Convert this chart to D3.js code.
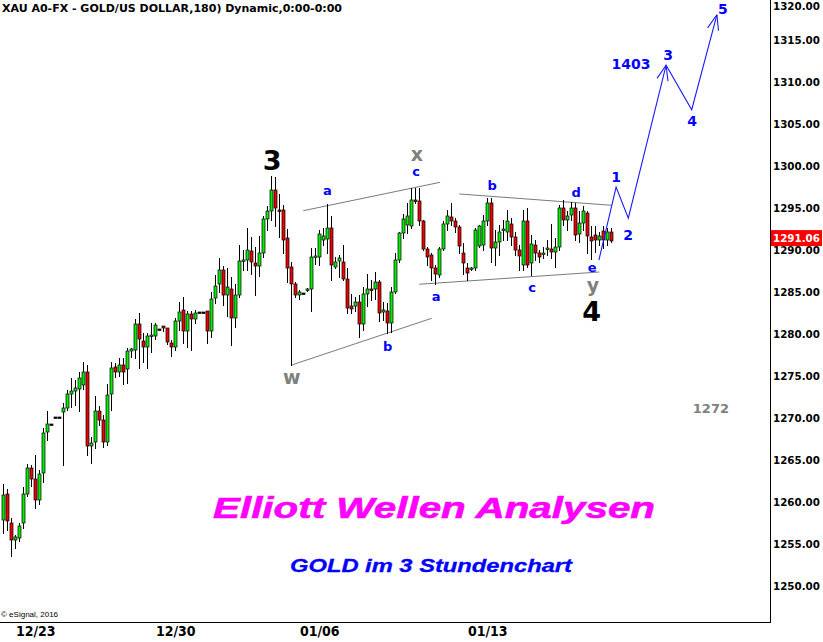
<!DOCTYPE html>
<html><head><meta charset="utf-8">
<script src="https://cdn.jsdelivr.net/npm/d3@7"></script>
<style>body{margin:0;background:#fff;} svg{display:block;}</style>
</head><body>
<svg id="chart" width="823" height="642"></svg>
<script>
// ---- data (3-hour bars, XAU/USD) ----
const openP = [1257.9,1260.9,1257.5,1255.5,1255.7,1257.5,1261.0,1264.1,1262.7,1260.2,
1263.4,1268.3,1269.3,1270.1,1270.1,1270.7,1271.2,1272.8,1273.2,1273.5,
1273.9,1275.5,1266.7,1267.1,1270.8,1269.8,1267.1,1272.8,1276.1,1275.5,
1276.3,1275.8,1278.0,1278.1,1281.2,1279.2,1278.4,1279.8,1279.8,1280.6,
1280.9,1280.7,1278.9,1278.5,1281.5,1282.9,1280.4,1282.4,1281.8,1282.6,
1282.6,1282.7,1280.3,1284.3,1285.9,1287.6,1284.7,1285.4,1281.9,1284.7,
1288.7,1288.8,1289.9,1288.4,1288.1,1289.6,1293.7,1294.6,1297.1,1294.8,
1294.8,1291.4,1288.0,1286.0,1284.6,1284.9,1285.2,1285.4,1289.2,1289.2,
1291.2,1291.3,1292.6,1288.0,1288.7,1288.6,1286.6,1283.3,1283.3,1283.8,
1281.2,1284.8,1285.4,1285.4,1286.2,1282.6,1282.7,1281.3,1285.0,1288.8,
1292.0,1293.0,1292.9,1296.0,1295.8,1293.4,1290.1,1289.4,1287.8,1287.0,
1290.1,1293.1,1293.9,1293.5,1292.7,1289.6,1287.8,1287.8,1287.8,1290.5,
1290.6,1293.4,1295.6,1290.2,1291.0,1292.4,1292.2,1293.1,1291.6,1290.0,
1288.2,1293.4,1288.4,1290.6,1289.6,1289.6,1290.1,1290.1,1289.8,1290.3,
1295.0,1293.6,1294.2,1295.0,1291.9,1293.2,1294.4,1291.6,1291.8,1291.2,
1292.3,1291.2,1292.1];
const highP = [1262.2,1261.6,1258.1,1256.1,1257.5,1261.8,1264.5,1264.4,1265.6,1263.8,
1268.8,1270.8,1269.3,1270.1,1270.1,1271.8,1273.3,1274.8,1274.5,1275.5,
1276.7,1276.3,1267.7,1272.6,1271.4,1270.4,1274.0,1276.7,1276.6,1277.2,
1277.1,1278.3,1278.3,1281.8,1282.5,1280.1,1280.1,1281.3,1281.3,1280.6,
1280.9,1280.7,1279.3,1281.9,1283.8,1284.4,1282.7,1282.7,1282.8,1282.6,
1282.6,1282.7,1285.0,1287.0,1289.0,1288.1,1287.9,1286.8,1286.0,1290.6,
1290.0,1292.6,1291.6,1290.4,1291.7,1294.0,1295.2,1298.8,1298.7,1296.7,
1295.4,1292.5,1288.6,1286.2,1285.2,1284.9,1285.5,1290.2,1290.2,1292.4,
1292.6,1295.5,1294.0,1289.2,1289.4,1290.6,1287.8,1284.8,1284.4,1284.6,
1285.6,1287.2,1286.4,1287.4,1286.4,1283.8,1283.7,1285.6,1289.6,1292.2,
1294.3,1295.6,1297.4,1297.4,1297.4,1293.6,1290.4,1289.7,1288.2,1290.4,
1293.5,1294.8,1295.6,1293.8,1293.0,1290.8,1288.4,1288.0,1292.6,1293.0,
1294.2,1296.2,1296.2,1292.4,1293.0,1293.6,1294.8,1293.8,1292.1,1290.6,
1294.8,1295.0,1291.8,1291.2,1290.0,1290.4,1291.2,1293.1,1291.4,1295.4,
1296.0,1294.6,1295.7,1295.6,1294.6,1295.2,1294.6,1292.8,1292.8,1292.1,
1292.8,1292.6,1292.6];
const lowP = [1256.3,1256.7,1253.6,1254.5,1255.4,1256.9,1260.7,1261.9,1259.3,1259.8,
1262.4,1267.4,1269.3,1270.1,1270.1,1264.4,1271.0,1271.3,1271.5,1270.8,
1273.5,1265.6,1264.7,1266.4,1269.2,1266.6,1266.8,1270.9,1274.9,1275.0,
1274.1,1274.2,1277.3,1277.2,1276.0,1276.7,1276.0,1277.9,1279.4,1280.6,
1280.3,1278.8,1277.4,1278.1,1280.5,1278.9,1278.4,1278.1,1281.3,1282.6,
1282.6,1278.9,1279.6,1283.7,1285.0,1283.5,1282.2,1278.7,1280.8,1284.4,
1287.6,1287.6,1287.2,1284.6,1286.9,1289.2,1292.4,1293.6,1292.8,1291.6,
1289.6,1286.2,1276.3,1284.4,1284.2,1284.9,1285.1,1282.7,1288.3,1288.2,
1290.6,1289.6,1286.4,1287.9,1286.8,1286.4,1282.5,1282.5,1282.7,1279.7,
1280.5,1283.3,1284.0,1284.2,1281.5,1281.7,1280.1,1280.2,1284.9,1288.6,
1291.4,1292.0,1292.6,1295.6,1293.0,1290.0,1288.2,1286.4,1286.0,1286.8,
1290.0,1292.4,1293.0,1292.1,1289.6,1287.2,1286.4,1287.6,1287.6,1290.4,
1290.0,1293.0,1288.6,1288.2,1289.4,1291.2,1291.2,1290.6,1289.4,1287.6,
1287.6,1288.0,1287.0,1288.8,1288.6,1289.0,1289.4,1289.0,1288.0,1290.0,
1293.0,1292.4,1293.6,1291.2,1291.0,1292.4,1289.6,1288.9,1289.8,1290.6,
1290.2,1290.6,1291.0];
const closeP = [1260.8,1257.7,1255.5,1255.8,1257.2,1261.0,1264.1,1262.7,1260.2,1263.3,
1268.2,1269.3,1269.3,1270.1,1270.1,1271.2,1272.8,1273.2,1273.6,1274.8,
1275.5,1266.7,1267.0,1270.8,1269.8,1267.1,1272.7,1275.9,1275.5,1276.3,
1275.5,1278.0,1278.2,1281.2,1279.4,1278.4,1279.8,1279.9,1281.1,1280.6,
1280.7,1279.0,1278.5,1281.5,1282.6,1280.4,1282.4,1281.8,1282.5,1282.6,
1282.6,1280.3,1284.2,1285.7,1287.6,1284.6,1285.6,1281.9,1284.6,1288.7,
1288.8,1290.0,1288.6,1288.1,1289.6,1293.7,1294.6,1297.2,1295.0,1294.6,
1291.2,1287.8,1286.0,1284.6,1285.0,1284.9,1285.4,1289.2,1289.3,1291.9,
1291.7,1292.6,1288.2,1288.6,1289.1,1286.6,1283.1,1283.0,1283.8,1281.2,
1284.8,1285.4,1285.3,1286.2,1282.5,1282.9,1281.3,1285.0,1288.8,1292.0,
1293.7,1294.0,1296.0,1295.9,1293.4,1290.1,1289.2,1287.8,1287.2,1290.1,
1293.1,1294.0,1293.4,1292.7,1290.5,1288.4,1287.3,1287.9,1292.4,1292.8,
1293.5,1295.6,1290.2,1290.9,1292.2,1292.5,1293.4,1291.6,1290.0,1289.3,
1293.4,1288.2,1290.7,1289.6,1289.2,1289.7,1290.2,1289.8,1290.4,1295.0,
1293.6,1294.0,1295.0,1291.8,1293.2,1294.6,1291.7,1291.1,1291.2,1291.7,
1291.2,1292.2,1291.06];

const dateLabels   = ["12/23","12/30","01/06","01/13"];
const dateBarIndex = [8, 43, 79, 121];
const priceTicks   = [1250,1255,1260,1265,1270,1275,1280,1285,1290,1295,1300,1305,1310,1315,1320];
const lastPrice    = 1291.06;

// projected impulse (bar index, price)
const projIndex = [148.9, 153.2, 156.25, 165.7, 172.1, 178.4];
const projPrice = [1288.8, 1297.5, 1293.8, 1312.0, 1306.7, 1318.0];

// grey channel / triangle lines: [idx1, price1, idx2, price2]
const channelUpper  = [75.0, 1294.68, 109.2, 1298.06];
const channelLower  = [72.1, 1276.31, 107.1, 1281.87];
const triangleUpper = [114.0, 1296.67, 152.1, 1295.32];
const triangleLower = [104.0, 1285.92, 149.0, 1287.38];

// wave labels
const waveText  = ["3","x","c","a","b","w","a","b","c","d","e","y","4","1","2","3","4","5","1403","1272"];
const waveIndex = [67.2,103.4,103.2,81.0,96.1,72.1,108.2,122.2,132.2,143.2,147.2,147.4,147.1,153.2,156.2,166.2,172.2,179.9,156.9,176.9];
const wavePrice = [1300.7,1301.4,1299.3,1297.1,1278.5,1274.9,1284.5,1297.7,1285.5,1296.8,1287.9,1285.8,1282.7,1298.7,1291.8,1313.2,1305.4,1318.7,1312.1,1271.1];
const waveKind  = ["big","grey","blue","blue","blue","grey","blue","blue","blue","blue","blue","grey","big","num","num","num","num","num","num","greyNum"];

// ---- drawing ----
const svg = d3.select("#chart");
const x = d3.scaleLinear().domain([0, 152]).range([3.3, 611.3]);
const y = d3.scaleLinear().domain([1250, 1315]).range([586, 40]);
const plotRight = 770, plotBottom = 622;

// title
svg.append("text").attr("x", 2).attr("y", 12)
  .attr("font-family", "DejaVu Sans, Verdana, sans-serif").attr("font-weight", "bold")
  .attr("font-size", 11).attr("textLength", 340).attr("lengthAdjust", "spacingAndGlyphs")
  .text("XAU A0-FX - GOLD/US DOLLAR,180) Dynamic,0:00-0:00");

// frame lines
svg.append("line").attr("x1", plotRight + 0.5).attr("x2", plotRight + 0.5).attr("y1", 0).attr("y2", plotBottom + 1)
  .attr("stroke", "#000").attr("stroke-width", 1);
svg.append("line").attr("x1", 0).attr("x2", plotRight + 1).attr("y1", plotBottom + 0.5).attr("y2", plotBottom + 0.5)
  .attr("stroke", "#000").attr("stroke-width", 1);

// y axis
const yAxis = d3.axisRight(y).tickValues(priceTicks).tickSize(0).tickPadding(3).tickFormat(d3.format(".2f"));
const gy = svg.append("g").attr("transform", `translate(${plotRight},0)`).call(yAxis);
gy.select(".domain").remove();
gy.selectAll("text").attr("font-family", "DejaVu Sans, Verdana, sans-serif")
  .attr("font-weight", "bold").attr("font-size", 10.3).attr("fill", "#000");
gy.selectAll(".tick").filter(d => y(d) < 6).select("text").attr("y", 6 - y(1320));

// x axis
const xAxis = d3.axisBottom(x).tickValues(dateBarIndex).tickSize(0).tickPadding(4)
  .tickFormat((d, i) => dateLabels[i]);
const gx = svg.append("g").attr("transform", `translate(0,${plotBottom})`).call(xAxis);
gx.select(".domain").remove();
gx.selectAll("text").attr("font-family", "Liberation Sans Narrow, DejaVu Sans Condensed, Arial Narrow, sans-serif")
  .attr("font-weight", "bold").attr("font-size", 14).attr("fill", "#000");

// copyright
svg.append("text").attr("x", 1).attr("y", 617).attr("font-family", "Liberation Sans, Arial, sans-serif")
  .attr("font-size", 8).text("\u00A9 eSignal, 2016");

// big captions
svg.append("text").attr("x", 213).attr("y", 518)
  .attr("font-family", "Liberation Sans, Arial, sans-serif").attr("font-weight", "bold").attr("font-style", "italic")
  .attr("font-size", 30).attr("fill", "#ff00ff").attr("stroke", "#ff00ff").attr("stroke-width", 0.6)
  .attr("textLength", 442).attr("lengthAdjust", "spacingAndGlyphs")
  .text("Elliott Wellen Analysen");
svg.append("text").attr("x", 290).attr("y", 572)
  .attr("font-family", "Liberation Sans, Arial, sans-serif").attr("font-weight", "bold").attr("font-style", "italic")
  .attr("font-size", 18.5).attr("fill", "#0000ff").attr("stroke", "#0000ff").attr("stroke-width", 0.3)
  .attr("textLength", 282).attr("lengthAdjust", "spacingAndGlyphs")
  .text("GOLD im 3 Stundenchart");

// grey trend lines
const trend = [channelUpper, channelLower, triangleUpper, triangleLower];
svg.append("g").selectAll("line").data(trend).join("line")
  .attr("x1", d => x(d[0])).attr("y1", d => y(d[1]))
  .attr("x2", d => x(d[2])).attr("y2", d => y(d[3]))
  .attr("stroke", "#7a7a7a").attr("stroke-width", 1);

// candles
const bars = openP.map((o, i) => ({ i, o, h: highP[i], l: lowP[i], c: closeP[i] }));
const gw = svg.append("g").attr("shape-rendering", "crispEdges");
gw.selectAll("line").data(bars).join("line")
  .attr("x1", d => Math.round(x(d.i)) + 0.5).attr("x2", d => Math.round(x(d.i)) + 0.5)
  .attr("y1", d => Math.round(y(d.h))).attr("y2", d => Math.round(y(d.l)) + 1)
  .attr("stroke", "#000").attr("stroke-width", 1);
const gb = svg.append("g");
gb.selectAll("rect").data(bars).join("rect")
  .attr("x", d => Math.round(x(d.i)) - 1)
  .attr("y", d => Math.round(y(Math.max(d.o, d.c))))
  .attr("width", 3)
  .attr("height", d => Math.max(1.5, Math.round(y(Math.min(d.o, d.c))) - Math.round(y(Math.max(d.o, d.c)))))
  .attr("fill", d => Math.abs(d.c - d.o) < 0.05 ? "#000" : (d.c > d.o ? "#00ee00" : "#ee0000"))
  .attr("stroke", "#000").attr("stroke-width", 0.7);

// projection
const proj = projIndex.map((v, i) => [x(v), y(projPrice[i])]);
svg.append("path").attr("d", d3.line()(proj)).attr("fill", "none")
  .attr("stroke", "#1a1aff").attr("stroke-width", 1.1);
[3, 5].forEach(k => {
  const tip = proj[k], prev = proj[k - 1];
  const ang = Math.atan2(prev[1] - tip[1], prev[0] - tip[0]);
  [-0.36, 0.36].forEach(da => {
    svg.append("line").attr("x1", tip[0]).attr("y1", tip[1])
      .attr("x2", tip[0] + 16 * Math.cos(ang + da)).attr("y2", tip[1] + 16 * Math.sin(ang + da))
      .attr("stroke", "#1a1aff").attr("stroke-width", 1.1);
  });
});

// wave labels
const styleOf = {
  big:     { size: 27, color: "#000",    font: "DejaVu Sans, Verdana, sans-serif" },
  grey:    { size: 19, color: "#808080", font: "DejaVu Sans, Verdana, sans-serif" },
  blue:    { size: 13, color: "#0000ff", font: "DejaVu Sans, Verdana, sans-serif" },
  num:     { size: 14, color: "#0000ff", font: "DejaVu Sans, Verdana, sans-serif" },
  greyNum: { size: 13, color: "#808080", font: "DejaVu Sans, Verdana, sans-serif" }
};
const labels = waveText.map((t, i) => ({ t, i: waveIndex[i], p: wavePrice[i], s: styleOf[waveKind[i]] }));
svg.append("g").selectAll("text").data(labels).join("text")
  .attr("x", d => x(d.i)).attr("y", d => y(d.p))
  .attr("text-anchor", "middle").attr("dominant-baseline", "central")
  .attr("font-family", d => d.s.font).attr("font-weight", "bold")
  .attr("font-size", d => d.s.size).attr("fill", d => d.s.color)
  .text(d => d.t);

// last price marker
const lp = svg.append("g").attr("transform", `translate(${plotRight + 1},${y(lastPrice) - 3})`);
lp.append("rect").attr("x", 0).attr("y", -8).attr("width", 51).attr("height", 16).attr("fill", "#ff0000");
lp.append("text").attr("x", 2).attr("y", 0).attr("dominant-baseline", "central")
  .attr("font-family", "DejaVu Sans, Verdana, sans-serif").attr("font-weight", "bold").attr("font-size", 10.3)
  .attr("fill", "#fff").text(d3.format(".2f")(lastPrice));
</script>
</body></html>
